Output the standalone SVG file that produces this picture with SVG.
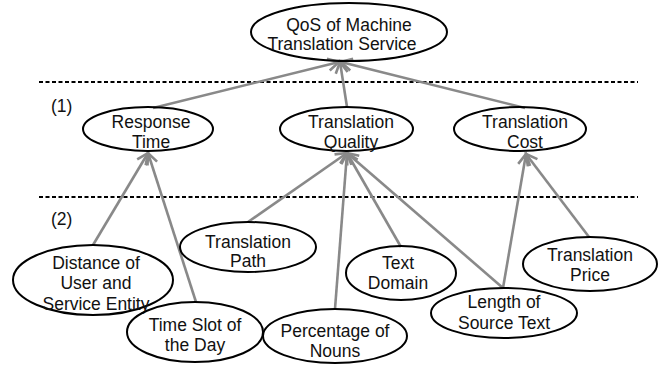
<svg xmlns="http://www.w3.org/2000/svg" width="668" height="367" viewBox="0 0 668 367">
<style>
  .n ellipse { fill: none; stroke: #000; stroke-width: 2; }
  .n text, .lbl { font-family: "Liberation Sans", Arial, sans-serif; font-size: 17.5px; fill: #111; text-anchor: middle; }
  .lbl { text-anchor: start; }
  .e line { stroke: #898989; stroke-width: 2.6; marker-end: url(#arr); }
  .sep { stroke: #000; stroke-width: 1.8; stroke-dasharray: 4 2.5; }
</style>
<defs>
  <marker id="arr" markerUnits="userSpaceOnUse" markerWidth="18" markerHeight="18" viewBox="-14 -9 16 18" refX="0" refY="0" orient="auto">
    <polyline points="-11,-6 0,0 -11,6" fill="none" stroke="#898989" stroke-width="2.6"/>
  </marker>
</defs>
<rect width="668" height="367" fill="#fff"/>
<line class="sep" x1="39" y1="82" x2="638" y2="82"/>
<line class="sep" x1="39" y1="197" x2="638" y2="197"/>
<text class="lbl" x="51" y="112">(1)</text>
<text class="lbl" x="51" y="225">(2)</text>
<g id="connectors" class="e">
  <line x1="153" y1="108" x2="339" y2="62"/>
  <line x1="347" y1="107" x2="340" y2="62"/>
  <line x1="525" y1="108" x2="341" y2="62"/>
  <line x1="93" y1="245" x2="148" y2="153"/>
  <line x1="196" y1="302" x2="148" y2="153"/>
  <line x1="248" y1="222" x2="347" y2="153"/>
  <line x1="335" y1="309" x2="347" y2="153"/>
  <line x1="401" y1="247" x2="347" y2="153"/>
  <line x1="503" y1="288" x2="347" y2="153"/>
  <line x1="503" y1="288" x2="526" y2="154"/>
  <line x1="589" y1="237" x2="526" y2="154"/>
</g>
<g id="qos" class="n">
  <ellipse cx="349" cy="32" rx="98" ry="29"/>
  <text x="349" y="31">QoS of Machine</text>
  <text x="342" y="50">Translation Service</text>
</g>
<g id="response-time" class="n">
  <ellipse cx="148" cy="129" rx="65" ry="22"/>
  <text x="151" y="128">Response</text>
  <text x="151" y="148">Time</text>
</g>
<g id="translation-quality" class="n">
  <ellipse cx="346.5" cy="129" rx="66.5" ry="22"/>
  <text x="351" y="128">Translation</text>
  <text x="351" y="148">Quality</text>
</g>
<g id="translation-cost" class="n">
  <ellipse cx="520" cy="129" rx="66" ry="22"/>
  <text x="525" y="128">Translation</text>
  <text x="525" y="148">Cost</text>
</g>
<g id="translation-path" class="n">
  <ellipse cx="248" cy="247" rx="68" ry="25"/>
  <text x="248" y="248">Translation</text>
  <text x="248" y="267">Path</text>
</g>
<g id="distance" class="n">
  <ellipse cx="93" cy="280" rx="80" ry="35"/>
  <text x="96" y="269">Distance of</text>
  <text x="96" y="289">User and</text>
  <text x="96" y="310">Service Entity</text>
</g>
<g id="time-slot" class="n">
  <ellipse cx="195" cy="332" rx="68" ry="30"/>
  <text x="195" y="331">Time Slot of</text>
  <text x="195" y="351">the Day</text>
</g>
<g id="percentage-nouns" class="n">
  <ellipse cx="335" cy="336" rx="72" ry="27"/>
  <text x="335" y="337">Percentage of</text>
  <text x="335" y="357">Nouns</text>
</g>
<g id="text-domain" class="n">
  <ellipse cx="401" cy="273" rx="55" ry="27"/>
  <text x="398" y="269">Text</text>
  <text x="398" y="289">Domain</text>
</g>
<g id="length-source" class="n">
  <ellipse cx="504" cy="313" rx="73" ry="25"/>
  <text x="504" y="308">Length of</text>
  <text x="504" y="329">Source Text</text>
</g>
<g id="translation-price" class="n">
  <ellipse cx="590" cy="264" rx="67" ry="27"/>
  <text x="590" y="261">Translation</text>
  <text x="590" y="281">Price</text>
</g>
</svg>
